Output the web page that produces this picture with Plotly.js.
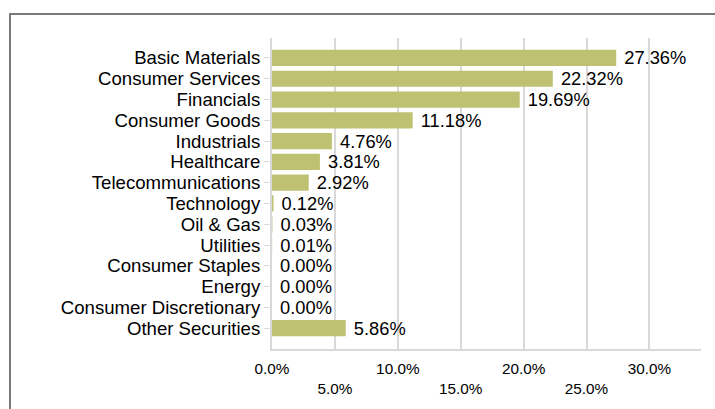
<!DOCTYPE html>
<html>
<head>
<meta charset="utf-8">
<script src="https://cdn.plot.ly/plotly-3.0.1.min.js"></script>
<style>
html, body { margin: 0; padding: 0; background: #fff; overflow: hidden; }
#chart { width: 715px; height: 409px; position: absolute; left: 0; top: 0; }
#frame { position: absolute; left: 9px; top: 13px; width: 720px; height: 420px; border: 2px solid #7a7a7a; pointer-events: none; }
</style>
</head>
<body>
<div id="chart"></div>
<div id="frame"></div>
<script>
var categories = ["Basic Materials", "Consumer Services", "Financials", "Consumer Goods", "Industrials", "Healthcare", "Telecommunications", "Technology", "Oil & Gas", "Utilities", "Consumer Staples", "Energy", "Consumer Discretionary", "Other Securities"];
var weights = [27.36, 22.32, 19.69, 11.18, 4.76, 3.81, 2.92, 0.12, 0.03, 0.01, 0.00, 0.00, 0.00, 5.86];
var tickValues = [0, 5, 10, 15, 20, 25, 30];
var tickLabels = ["0.0%", "<br>5.0%", "10.0%", "<br>15.0%", "20.0%", "<br>25.0%", "30.0%"];

var fontFam = "Liberation Sans, Arial, sans-serif";

var trace = {
  type: "bar",
  orientation: "h",
  x: weights,
  y: categories,
  width: 0.78,
  marker: { color: "#bec171", line: { width: 0 } },
  texttemplate: " %{x:.2f}%",
  textposition: "outside",
  constraintext: "none",
  cliponaxis: false,
  textfont: { family: fontFam, size: 18.3, color: "#000" },
  hoverinfo: "none"
};

var layout = {
  width: 715,
  height: 409,
  margin: { l: 272, r: 14, t: 38, b: 60 },
  paper_bgcolor: "#fff",
  plot_bgcolor: "#fff",
  showlegend: false,
  font: { family: fontFam, color: "#000" },
  xaxis: {
    range: [0, 34.1],
    tickvals: tickValues,
    ticktext: tickLabels,
    showgrid: true,
    gridcolor: "#d9d9d9",
    gridwidth: 2,
    zeroline: false,
    showline: true,
    linecolor: "#d9d9d9",
    linewidth: 2,
    ticks: "",
    ticklabelstandoff: 5,
    tickfont: { family: fontFam, size: 15.3, color: "#000" },
    fixedrange: true
  },
  yaxis: {
    type: "category",
    categoryorder: "array",
    categoryarray: categories.slice().reverse(),
    tickmode: "array",
    tickvals: categories,
    range: [-1.0, 13.96],
    showgrid: false,
    zeroline: false,
    showline: true,
    linecolor: "#d9d9d9",
    linewidth: 2,
    ticks: "outside",
    ticklen: 6,
    tickwidth: 1,
    tickcolor: "#d9d9d9",
    tickfont: { family: fontFam, size: 18.6, color: "#000" },
    fixedrange: true
  }
};

Plotly.newPlot("chart", [trace], layout, { displayModeBar: false, staticPlot: true });
</script>
</body>
</html>
